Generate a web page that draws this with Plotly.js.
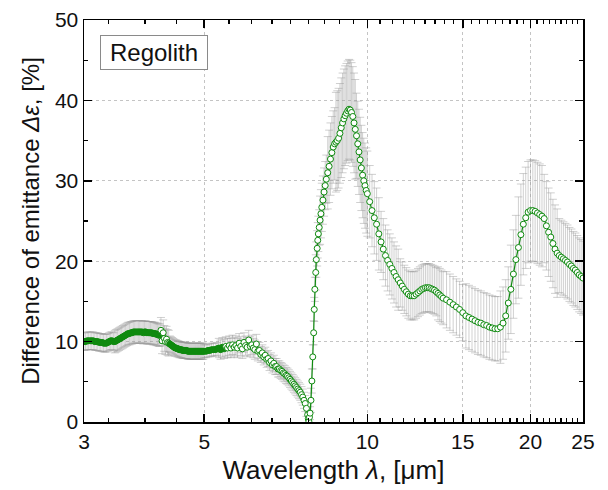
<!DOCTYPE html>
<html><head><meta charset="utf-8">
<script src="https://cdn.plot.ly/plotly-3.0.1.min.js"></script>
<style>html,body{margin:0;padding:0;background:#fff;} #chart{width:608px;height:490px;}</style>
</head><body><div id="chart"></div>
<script>
// ---- Data (wavelength in µm, Δε in %) ----
const wlA = [3.00,3.02,3.04,3.06,3.08,3.10,3.12,3.14,3.16,3.18,3.20,3.22,3.24,3.26,3.28,3.30,3.32,3.34,3.36,3.38,3.40,
  3.42,3.44,3.46,3.48,3.50,3.52,3.54,3.56,3.58,3.60,3.62,3.64,3.66,3.68,3.70,3.72,3.74,3.76,3.78,3.80,3.82,3.84,3.86,3.88,3.90,3.92,3.94,3.96,3.98,4.00,4.02,4.04,4.06,4.08,4.10,4.12,4.14,
  4.16,4.18,4.20,4.22,4.24,4.26,4.28,4.30,
  4.32,4.34,4.36,4.38,4.40,4.42,4.44,4.46,4.48,4.50,4.52,4.54,4.56,4.58,4.60,4.62,4.64,4.66,4.68,4.70,4.72,4.74,4.76,4.78,4.80,4.82,4.84,4.86,4.88,4.90,4.92,4.94,4.96,4.98];
const deA = [10.0,10.0,10.1,10.1,10.1,10.1,10.1,10.0,10.0,10.0,9.9,9.9,9.9,9.8,9.8,9.8,9.9,10.0,10.1,10.1,10.0,
  10.0,10.1,10.2,10.3,10.4,10.5,10.6,10.7,10.8,10.9,11.0,11.0,11.1,11.1,11.2,11.2,11.2,11.2,11.2,11.2,11.2,11.2,11.1,11.2,11.2,11.1,11.1,11.1,11.1,11.1,11.0,11.0,11.0,10.9,10.9,10.8,10.8,
  11.4,10.1,11.1,10.4,10.0,10.3,9.9,9.8,
  9.7,9.6,9.5,9.4,9.3,9.2,9.2,9.1,9.1,9.0,9.0,9.0,8.9,8.9,8.9,8.9,8.9,8.8,8.8,8.8,8.8,8.8,8.8,8.8,8.8,8.8,8.8,8.8,8.8,8.8,8.8,8.8,8.8,8.8];
const erA = [1.1,1.1,1.1,1.1,1.1,1.1,1.1,1.1,1.1,1.1,1.1,1.1,1.1,1.1,1.1,1.1,1.1,1.1,1.1,1.1,1.1,
  1.4,1.4,1.4,1.4,1.4,1.4,1.4,1.4,1.4,1.4,1.4,1.4,1.4,1.4,1.4,1.4,1.4,1.4,1.4,1.4,1.4,1.4,1.4,1.4,1.4,1.4,1.4,1.4,1.4,1.4,1.4,1.4,1.4,1.4,1.4,1.4,1.4,
  1.6,1.6,1.6,1.6,1.6,1.6,1.6,1.6,
  1.0,1.0,1.0,1.0,1.0,1.0,1.0,1.0,1.0,1.0,1.0,1.0,1.0,1.0,1.0,1.0,1.0,1.0,1.0,1.0,1.0,1.0,1.0,1.0,1.0,1.0,1.0,1.0,1.0,1.0,1.0,1.0,1.0,1.0];

const wlB = [5.00,5.04,5.08,5.12,5.16,5.20,5.24,5.28,
  5.32,5.36,5.40,5.44,5.48,5.52,5.56,5.60,5.64,5.68,5.72,5.76,5.80,5.84,5.88,5.92,5.96,6.00,6.04,6.08,6.12,6.16,6.20,6.24,6.28,
  6.32,6.36,6.40,6.44,6.48,6.52,6.56,6.60,6.64,6.68,6.72,6.76,6.80,6.84,6.88,6.92,6.96,7.00,7.04,7.08,7.12,7.16,7.20,7.24,7.28,7.32,7.36,7.40,7.44,7.48,7.52,7.56,7.60,7.64,7.68,7.72,7.76];
const deB = [8.8,8.8,8.9,8.9,9.0,9.0,9.0,9.1,
  9.2,9.0,9.3,9.1,9.4,9.2,9.5,9.2,9.6,9.3,9.5,9.2,9.8,9.4,9.1,9.9,9.5,9.3,10.2,9.4,9.6,9.2,9.0,9.7,8.8,
  8.9,8.4,8.6,8.1,8.3,7.8,7.9,7.4,7.6,7.1,7.3,6.9,6.9,6.6,6.6,6.4,6.3,6.1,6.0,5.8,5.7,5.5,5.3,5.1,4.9,4.7,4.5,4.3,4.1,3.9,3.7,3.4,3.1,2.7,2.3,1.7,0.9];
const erB = [0.8,0.8,0.8,0.8,0.8,0.8,0.8,0.8,
  1.2,1.2,1.2,1.2,1.2,1.2,1.2,1.2,1.2,1.2,1.2,1.2,1.2,1.2,1.2,1.2,1.2,1.2,1.2,1.2,1.2,1.2,1.2,1.2,1.2,
  1.0,1.0,1.0,1.0,1.0,1.0,1.0,1.0,1.0,1.0,1.0,1.0,1.0,1.0,1.0,1.0,1.0,1.0,1.0,1.0,1.0,1.0,1.0,1.0,1.0,1.0,1.0,1.0,1.0,1.0,1.0,1.0,1.0,1.0,1.0,1.0,1.0];

const wlC = [7.78,7.80,7.82,7.84,
  7.87,7.90,7.93,7.96,7.98,8.00,
  8.03,8.05,8.08,8.10,8.12,8.15,
  8.18,8.21,8.24,8.28,8.32,8.36,8.40,
  8.45,8.50,8.55,8.60,8.65,8.70,
  8.75,8.80,8.85,8.90,8.95,9.00,9.05,9.10,9.15,9.20,9.25,9.30,9.35,9.40,9.45,9.50,
  9.55,9.60,9.65,9.70,9.75,9.80,9.85,9.90,9.95,10.00];
const deC = [0.4,0.1,0.6,1.1,
  2.7,5.1,8.1,11.1,14.0,16.5,
  18.6,20.2,21.6,22.6,23.4,24.2,
  25.1,25.9,26.7,27.6,28.6,29.4,30.2,
  31.0,31.8,32.7,33.5,34.2,34.6,
  34.8,35.0,35.3,35.9,36.6,37.2,37.7,38.1,38.4,38.7,38.9,38.8,38.5,38.0,37.2,36.4,
  35.6,34.6,33.6,32.6,31.6,30.7,30.0,29.4,28.8,28.4];
const erC = [0.8,0.8,0.8,0.8,
  1.5,1.5,1.5,1.5,1.5,1.5,
  2.2,2.2,2.2,2.2,2.2,2.2,
  3.0,3.0,3.0,3.0,3.0,3.0,3.0,
  4.5,4.5,4.5,4.5,4.5,4.5,
  6.2,6.2,6.2,6.2,6.2,6.2,6.2,6.2,6.2,6.2,6.2,6.2,6.2,6.2,6.2,6.2,
  5.3,5.3,5.3,5.3,5.3,5.3,5.3,5.3,5.3,5.3];

const wlD = [10.1,10.2,10.3,10.4,10.5,
  10.6,10.7,10.8,10.9,11.0,11.1,11.2,11.3,11.4,
  11.5,11.6,11.7,11.8,11.9,12.0,12.1,12.2,12.3,12.4,12.5,12.6,12.7,12.8,12.9,13.0,13.1,13.2,13.3,13.4,
  13.5,13.6,13.7,13.8];
const deD = [27.4,26.3,25.4,24.6,23.4,
  22.4,21.5,20.7,20.1,19.6,19.1,18.6,18.1,17.7,
  17.3,16.9,16.5,16.2,15.9,15.7,15.7,15.7,15.9,16.1,16.3,16.5,16.6,16.7,16.7,16.7,16.6,16.5,16.4,16.2,
  16.0,15.8,15.6,15.4];
const erD = [4.5,4.5,4.5,4.5,4.5,
  3.8,3.8,3.8,3.8,3.8,3.8,3.8,3.8,3.8,
  3.0,3.0,3.0,3.0,3.0,3.0,3.0,3.0,3.0,3.0,3.0,3.0,3.0,3.0,3.0,3.0,3.0,3.0,3.0,3.0,
  3.3,3.3,3.3,3.3];

const wlE = [14.0,14.2,14.4,14.6,14.8,15.0,
  15.2,15.4,15.6,15.8,16.0,16.2,16.4,16.6,16.8,17.0,17.2,17.4,
  17.6,17.8,18.0,18.2,
  18.4,18.6,18.8,
  19.0,19.2,19.4,19.6,19.8,20.0,20.2,20.4,20.6,20.8,21.0,
  21.2,21.4,21.6,21.8,22.0,22.2,22.4,
  22.6,22.8,23.0,23.2,23.4,23.6,23.8,24.0,24.2,24.4,24.6,24.8,25.0];
const deE = [15.2,14.9,14.6,14.3,14.0,13.6,
  13.2,13.0,12.8,12.6,12.4,12.3,12.1,12.0,11.8,11.7,11.6,11.6,
  11.8,12.3,13.2,14.8,
  16.5,18.4,20.2,
  21.7,23.3,24.6,25.4,26.1,26.3,26.3,26.2,26.0,25.8,25.6,
  25.3,24.4,23.6,23.0,22.2,21.5,21.0,
  20.7,20.5,20.3,20.1,19.9,19.6,19.4,19.1,18.9,18.6,18.3,18.1,17.9];
const erE = [3.5,3.5,3.5,3.5,3.5,3.5,
  4.0,4.0,4.0,4.0,4.0,4.0,4.0,4.0,4.0,4.0,4.0,4.0,
  4.5,4.5,4.5,4.5,
  5.5,5.5,5.5,
  6.3,6.3,6.3,6.3,6.3,6.3,6.3,6.3,6.3,6.3,6.3,
  5.5,5.5,5.5,5.5,5.5,5.5,5.5,
  4.6,4.6,4.6,4.6,4.6,4.6,4.6,4.6,4.6,4.6,4.6,4.6,4.6];

// Axis ticks
const xTickVals = [3, 5, 10, 15, 20, 25];
const xTickText = ['3', '5', '10', '15', '20', '25'];
const xMinorVals = [3.333,3.889,4.444,5.556,6.111,6.667,7.222,7.778,8.333,8.889,9.444,
  10.556,11.111,11.667,12.222,12.778,13.333,13.889,14.444,15.556,16.111,16.667,17.222,17.778,
  18.333,18.889,19.444,20.556,21.111,21.667,22.222,22.778,23.333,23.889,24.444];
const yTickVals = [0, 10, 20, 30, 40, 50];
const yMinorVals = [5, 15, 25, 35, 45];
const sampleLabel = 'Regolith';

const wavelength = wlA.concat(wlB, wlC, wlD, wlE);
const emittanceDiff = deA.concat(deB, deC, deD, deE);
const emittanceErr = erA.concat(erB, erC, erD, erE);

const green = '#0f8a0f';
const FONT = 'Arial, "Liberation Sans", sans-serif';

// densely sampled smooth stretches render as a solid band (overlapping open circles)
const markerFill = wavelength.map(w => ((w < 4.15) || (w > 4.31 && w < 5.45)) ? green : '#ffffff');

const traces = [
  {
    x: wavelength, y: emittanceDiff, type: 'scatter', mode: 'markers',
    marker: {size: 6, opacity: 0},
    error_y: {type: 'data', array: emittanceErr, visible: true,
              color: 'rgba(150,150,150,0.45)', thickness: 1, width: 4},
    hoverinfo: 'skip', showlegend: false
  },
  {
    x: wavelength, y: emittanceDiff, type: 'scatter', mode: 'lines+markers',
    line: {color: green, width: 1.2},
    marker: {symbol: 'circle', size: 6, color: markerFill, line: {color: green, width: 1}},
    showlegend: false
  },
  // empty trace so the minor-tick overlay axes are instantiated
  {x: [], y: [], xaxis: 'x2', yaxis: 'y2', type: 'scatter', mode: 'markers', showlegend: false, hoverinfo: 'skip'}
];

const axisCommon = {
  showline: true, linecolor: '#000', linewidth: 1.5, mirror: 'ticks',
  ticks: 'inside', ticklen: 8, tickwidth: 1.6, tickcolor: '#000',
  showgrid: true, gridcolor: '#c4c4c4', griddash: '3px,3px', gridwidth: 1,
  zeroline: false, layer: 'above traces',
  tickfont: {family: FONT, size: 21, color: '#111'}
};
const minorCommon = {
  showline: true, linecolor: '#000', linewidth: 1.5, mirror: 'ticks',
  ticks: 'inside', ticklen: 4, tickwidth: 1.2, tickcolor: '#000',
  showgrid: false, zeroline: false, showticklabels: false, layer: 'above traces',
  tickmode: 'array'
};

const layout = {
  width: 608, height: 490,
  margin: {l: 84, r: 25, t: 20, b: 68},
  paper_bgcolor: '#fff', plot_bgcolor: '#fff',
  font: {family: FONT, color: '#111'},
  xaxis: Object.assign({}, axisCommon, {
    type: 'log', range: [Math.log10(3), Math.log10(25)],
    tickmode: 'array', tickvals: xTickVals, ticktext: xTickText,
    title: {text: 'Wavelength <i>λ</i>, [μm]', font: {family: FONT, size: 26, color: '#111'}, standoff: 9}
  }),
  yaxis: Object.assign({}, axisCommon, {
    range: [0, 50], tickmode: 'array', tickvals: yTickVals,
    title: {text: 'Difference of emittance <i>Δε</i>, [%]', font: {family: FONT, size: 24, color: '#111'}, standoff: 8}
  }),
  xaxis2: Object.assign({}, minorCommon, {
    type: 'log', range: [Math.log10(3), Math.log10(25)], overlaying: 'x', side: 'bottom',
    tickvals: xMinorVals
  }),
  yaxis2: Object.assign({}, minorCommon, {
    range: [0, 50], overlaying: 'y', side: 'left', tickvals: yMinorVals
  }),
  annotations: [{
    text: sampleLabel, xref: 'paper', yref: 'paper', x: 0.032, y: 0.963,
    xanchor: 'left', yanchor: 'top', showarrow: false,
    font: {family: FONT, size: 24, color: '#111'},
    bgcolor: '#fff', bordercolor: '#8a8a8a', borderwidth: 1, borderpad: 1,
    width: 104, height: 31, align: 'center'
  }]
};

Plotly.newPlot('chart', traces, layout, {displayModeBar: false, staticPlot: true});
</script>
</body></html>
